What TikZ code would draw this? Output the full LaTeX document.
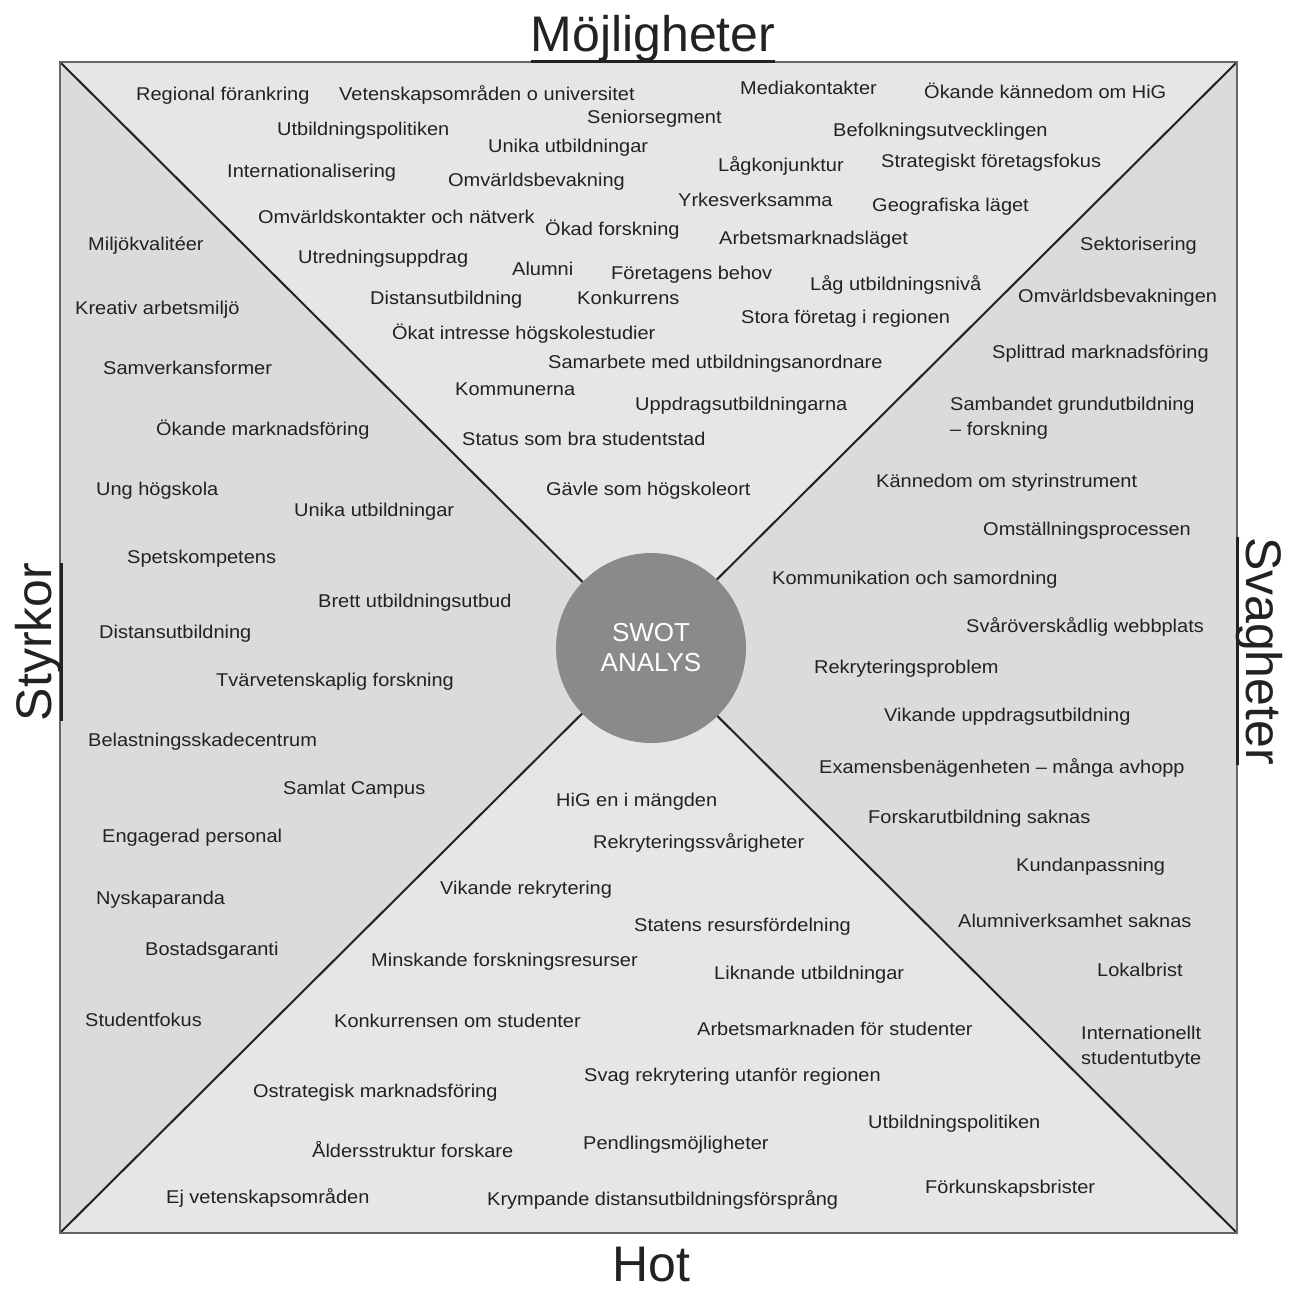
\documentclass[tikz,border=0pt]{standalone}
\usepackage{fontspec}
\setmainfont{Liberation Sans}
\newfontfamily\itemfont[FakeStretch=1.08]{Liberation Sans}
\newfontfamily\headfont{Liberation Sans}
\definecolor{paleA}{HTML}{E6E6E7}
\definecolor{paleB}{HTML}{DBDBDC}
\definecolor{hub}{HTML}{8A8A8C}
\definecolor{frame}{HTML}{666666}
\definecolor{ink}{HTML}{222222}
\tikzset{
  item/.style={font=\itemfont\fontsize{18.5}{25}\selectfont, anchor=west, inner sep=0pt,
    text=ink, text height=13pt, text depth=4pt, yshift=-2pt},
  itemtwo/.style={font=\itemfont\fontsize{18.5}{25}\selectfont, anchor=west, inner sep=0pt,
    text=ink, align=left, yshift=-2pt},
  heading/.style={font=\headfont\fontsize{50}{56}\selectfont, inner sep=0pt, text=ink},
  diag/.style={draw=ink, line width=2pt},
}
\begin{document}
\begin{tikzpicture}[x=1pt,y=-1pt]
\useasboundingbox (0,0) rectangle (1299,1291);
\fill[white] (0,0) rectangle (1299,1291);

% frame corners and centre
\coordinate (tl) at (60,62);
\coordinate (tr) at (1237,62);
\coordinate (br) at (1237,1233);
\coordinate (bl) at (60,1233);
\coordinate (o) at (649,648);

% four quadrants
\fill[paleA] (tl) -- (tr) -- (o) -- cycle;
\fill[paleA] (bl) -- (br) -- (o) -- cycle;
\fill[paleB] (tl) -- (bl) -- (o) -- cycle;
\fill[paleB] (tr) -- (br) -- (o) -- cycle;

% diagonals
\draw[diag] (tl) -- (br);
\draw[diag] (tr) -- (bl);
\draw[frame, line width=2pt] (tl) -- (tr) -- (br) -- (bl) -- cycle;

% centre disc
\node[circle, fill=hub, minimum size=190pt, inner sep=0pt, text=white, align=center,
  font=\headfont\fontsize{26}{30}\selectfont] (swot) at (651,648) {SWOT\\ANALYS};

% headings
\node[heading, anchor=base] (mojl) at (653,51) {Möjligheter};
\draw[ink, line width=3pt] ([yshift=-10pt]mojl.base west) -- ([yshift=-10pt]mojl.base east);
\node[heading, anchor=base, text depth=0pt] (hot) at (651,1281) {Hot};
\node[heading, anchor=base, rotate=90] (styr) at (51,642) {Styrkor};
\draw[ink, line width=3pt] ([xshift=10pt]styr.base west) -- ([xshift=10pt]styr.base east);
\node[heading, anchor=base, rotate=-90] (svag) at (1246,651) {Svagheter};
\draw[ink, line width=3pt] ([xshift=-8.5pt]svag.base west) -- ([xshift=-8.5pt]svag.base east);

% Möjligheter
\node[item] (m1) at (136,94) {Regional förankring};
\node[item] (m2) at (339,94) {Vetenskapsområden o universitet};
\node[item] (m3) at (740,88) {Mediakontakter};
\node[item] (m4) at (924,92) {Ökande kännedom om HiG};
\node[item] (m5) at (587,117) {Seniorsegment};
\node[item] (m6) at (277,129) {Utbildningspolitiken};
\node[item] (m7) at (833,130) {Befolkningsutvecklingen};
\node[item] (m8) at (488,146) {Unika utbildningar};
\node[item] (m9) at (718,165) {Lågkonjunktur};
\node[item] (m10) at (881,161) {Strategiskt företagsfokus};
\node[item] (m11) at (227,171) {Internationalisering};
\node[item] (m12) at (448,180) {Omvärldsbevakning};
\node[item] (m13) at (678,200) {Yrkesverksamma};
\node[item] (m14) at (872,205) {Geografiska läget};
\node[item] (m15) at (258,217) {Omvärldskontakter och nätverk};
\node[item] (m16) at (545,229) {Ökad forskning};
\node[item] (m17) at (719,238) {Arbetsmarknadsläget};
\node[item] (m18) at (298,257) {Utredningsuppdrag};
\node[item] (m19) at (512,269) {Alumni};
\node[item] (m20) at (611,273) {Företagens behov};
\node[item] (m21) at (810,284) {Låg utbildningsnivå};
\node[item] (m22) at (370,298) {Distansutbildning};
\node[item] (m23) at (577,298) {Konkurrens};
\node[item] (m24) at (741,317) {Stora företag i regionen};
\node[item] (m25) at (392,333) {Ökat intresse högskolestudier};
\node[item] (m26) at (548,362) {Samarbete med utbildningsanordnare};
\node[item] (m27) at (455,389) {Kommunerna};
\node[item] (m28) at (635,404) {Uppdragsutbildningarna};
\node[item] (m29) at (462,439) {Status som bra studentstad};
\node[item] (m30) at (546,489) {Gävle som högskoleort};

% Styrkor
\node[item] (s1) at (88,244) {Miljökvalitéer};
\node[item] (s2) at (75,308) {Kreativ arbetsmiljö};
\node[item] (s3) at (103,368) {Samverkansformer};
\node[item] (s4) at (156,429) {Ökande marknadsföring};
\node[item] (s5) at (96,489) {Ung högskola};
\node[item] (s6) at (294,510) {Unika utbildningar};
\node[item] (s7) at (127,557) {Spetskompetens};
\node[item] (s8) at (318,601) {Brett utbildningsutbud};
\node[item] (s9) at (99,632) {Distansutbildning};
\node[item] (s10) at (216,680) {Tvärvetenskaplig forskning};
\node[item] (s11) at (88,740) {Belastningsskadecentrum};
\node[item] (s12) at (283,788) {Samlat Campus};
\node[item] (s13) at (102,836) {Engagerad personal};
\node[item] (s14) at (96,898) {Nyskaparanda};
\node[item] (s15) at (145,949) {Bostadsgaranti};
\node[item] (s16) at (85,1020) {Studentfokus};

% Svagheter
\node[item] (w1) at (1080,244) {Sektorisering};
\node[item] (w2) at (1018,296) {Omvärldsbevakningen};
\node[item] (w3) at (992,352) {Splittrad marknadsföring};
\node[itemtwo] (w4) at (950,416.5) {Sambandet grundutbildning\\– forskning};
\node[item] (w5) at (876,481) {Kännedom om styrinstrument};
\node[item] (w6) at (983,529) {Omställningsprocessen};
\node[item] (w7) at (772,578) {Kommunikation och samordning};
\node[item] (w8) at (966,626) {Svåröverskådlig webbplats};
\node[item] (w9) at (814,667) {Rekryteringsproblem};
\node[item] (w10) at (884,715) {Vikande uppdragsutbildning};
\node[item] (w11) at (819,767) {Examensbenägenheten – många avhopp};
\node[item] (w12) at (868,817) {Forskarutbildning saknas};
\node[item] (w13) at (1016,865) {Kundanpassning};
\node[item] (w14) at (958,921) {Alumniverksamhet saknas};
\node[item] (w15) at (1097,970) {Lokalbrist};
\node[itemtwo] (w16) at (1081,1045.5) {Internationellt\\studentutbyte};

% Hot
\node[item] (h1) at (556,800) {HiG en i mängden};
\node[item] (h2) at (593,842) {Rekryteringssvårigheter};
\node[item] (h3) at (440,888) {Vikande rekrytering};
\node[item] (h4) at (634,925) {Statens resursfördelning};
\node[item] (h5) at (371,960) {Minskande forskningsresurser};
\node[item] (h6) at (714,973) {Liknande utbildningar};
\node[item] (h7) at (334,1021) {Konkurrensen om studenter};
\node[item] (h8) at (697,1029) {Arbetsmarknaden för studenter};
\node[item] (h9) at (584,1075) {Svag rekrytering utanför regionen};
\node[item] (h10) at (253,1091) {Ostrategisk marknadsföring};
\node[item] (h11) at (868,1122) {Utbildningspolitiken};
\node[item] (h12) at (583,1143) {Pendlingsmöjligheter};
\node[item] (h13) at (312,1151) {Åldersstruktur forskare};
\node[item] (h14) at (925,1187) {Förkunskapsbrister};
\node[item] (h15) at (166,1197) {Ej vetenskapsområden};
\node[item] (h16) at (487,1199) {Krympande distansutbildningsförsprång};
\end{tikzpicture}
\end{document}
